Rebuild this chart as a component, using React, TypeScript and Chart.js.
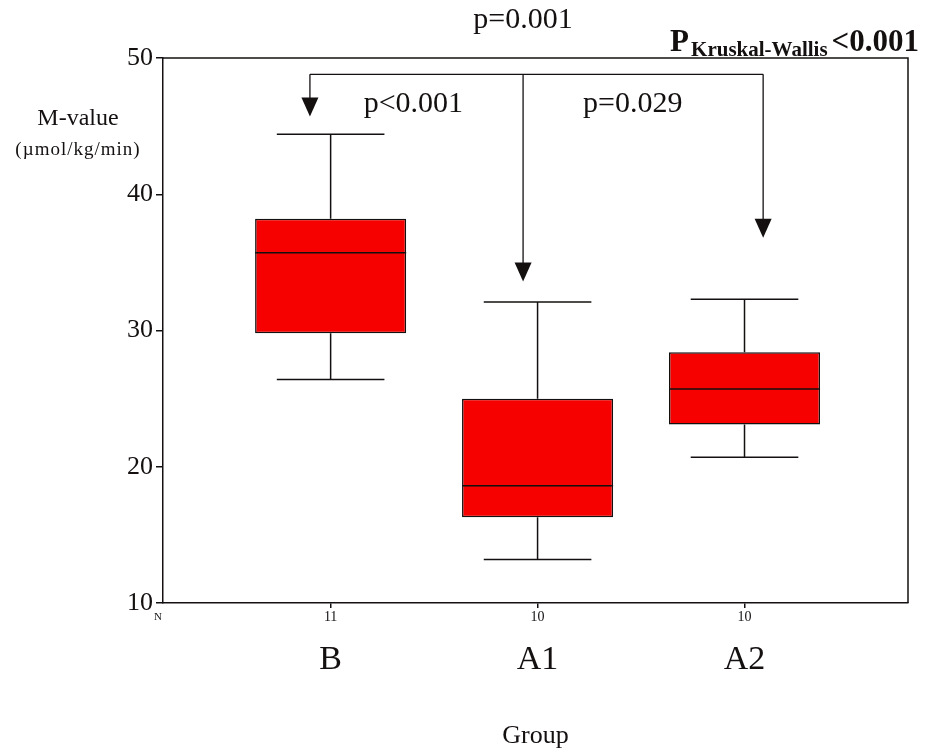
import React, { useEffect, useRef } from "react";
import { Chart, registerables } from "chart.js";

Chart.register(...registerables);

// Groups and their sample sizes
const groups = ["B", "A1", "A2"];
const nCounts = ["11", "10", "10"];

// Box-plot summary per group (M-value, µmol/kg/min)
const whiskerLow = [26.4, 13.2, 20.7];
const q1 = [29.8, 16.3, 23.1];
const median = [35.7, 18.6, 25.7];
const q3 = [38.2, 25.0, 28.4];
const whiskerHigh = [44.4, 32.1, 32.3];

const yTicks = [10, 20, 30, 40, 50];

// Pairwise comparison bracket: level, arrow positions, arrow tips
const bracketLevel = 48.8;
const arrowX = [0.9, 1.93, 3.09];
const arrowTip = [45.7, 33.6, 36.8];
const pairLabels = ["p<0.001", "p=0.029"];
const pairLabelX = [1.4, 2.46];
const pairLabelY = 46.6;
const overallLabel = "p=0.001";
const kwValue = "<0.001";

const ink = "#141010";
const boxFill = "#f70000";
const serif = "'Liberation Serif', 'Times New Roman', serif";
const capHalfWidth = 0.26;

const whiskerPlugin = {
  id: "whiskers",
  afterDatasetsDraw(chart: any) {
    const { ctx, scales } = chart;
    const x = scales.x;
    const y = scales.y;
    const meta = chart.getDatasetMeta(0);
    ctx.save();
    ctx.strokeStyle = ink;
    ctx.lineWidth = 1.5;
    meta.data.forEach((bar: any, i: number) => {
      const cx = bar.x;
      const half = bar.width / 2;
      const capHalf = x.getPixelForValue(i + 1 + capHalfWidth) - x.getPixelForValue(i + 1);
      const yMed = y.getPixelForValue(median[i]);
      const yQ1 = y.getPixelForValue(q1[i]);
      const yQ3 = y.getPixelForValue(q3[i]);
      const yLo = y.getPixelForValue(whiskerLow[i]);
      const yHi = y.getPixelForValue(whiskerHigh[i]);
      ctx.beginPath();
      ctx.moveTo(cx - half, yMed);
      ctx.lineTo(cx + half, yMed);
      ctx.moveTo(cx, yQ3);
      ctx.lineTo(cx, yHi);
      ctx.moveTo(cx, yQ1);
      ctx.lineTo(cx, yLo);
      ctx.moveTo(cx - capHalf, yHi);
      ctx.lineTo(cx + capHalf, yHi);
      ctx.moveTo(cx - capHalf, yLo);
      ctx.lineTo(cx + capHalf, yLo);
      ctx.stroke();
    });
    ctx.restore();
  },
};

const annotationPlugin = {
  id: "annotations",
  afterDraw(chart: any) {
    const { ctx, chartArea, scales } = chart;
    const x = scales.x;
    const y = scales.y;
    ctx.save();

    // top and right edges of the frame
    ctx.strokeStyle = ink;
    ctx.lineWidth = 1.5;
    ctx.beginPath();
    ctx.moveTo(chartArea.left, chartArea.top);
    ctx.lineTo(chartArea.right, chartArea.top);
    ctx.lineTo(chartArea.right, chartArea.bottom);
    ctx.stroke();

    // comparison bracket with arrows
    const yb = y.getPixelForValue(bracketLevel);
    const headH = 19;
    const headW = 17;
    ctx.lineWidth = 1.3;
    ctx.beginPath();
    ctx.moveTo(x.getPixelForValue(arrowX[0]), yb);
    ctx.lineTo(x.getPixelForValue(arrowX[arrowX.length - 1]), yb);
    ctx.stroke();
    ctx.fillStyle = ink;
    arrowX.forEach((ax, i) => {
      const px = x.getPixelForValue(ax);
      const tip = y.getPixelForValue(arrowTip[i]);
      ctx.beginPath();
      ctx.moveTo(px, yb);
      ctx.lineTo(px, tip - headH + 1);
      ctx.stroke();
      ctx.beginPath();
      ctx.moveTo(px - headW / 2, tip - headH);
      ctx.lineTo(px + headW / 2, tip - headH);
      ctx.lineTo(px, tip);
      ctx.closePath();
      ctx.fill();
    });

    // p-values
    ctx.fillStyle = ink;
    ctx.font = `30px ${serif}`;
    ctx.textAlign = "center";
    ctx.textBaseline = "middle";
    pairLabels.forEach((t, i) => {
      ctx.fillText(t, x.getPixelForValue(pairLabelX[i]), y.getPixelForValue(pairLabelY));
    });
    ctx.fillText(overallLabel, x.getPixelForValue(arrowX[1]), chartArea.top - 38);

    // Kruskal-Wallis result, right-aligned above the frame
    ctx.textBaseline = "alphabetic";
    ctx.textAlign = "left";
    const baseY = chartArea.top - 7;
    const endX = chartArea.right + 11;
    ctx.font = `bold 31px ${serif}`;
    const wVal = ctx.measureText(kwValue).width;
    const wP = ctx.measureText("P").width;
    ctx.font = `bold 21px ${serif}`;
    const sub = "Kruskal-Wallis";
    const wSub = ctx.measureText(sub).width;
    const valX = endX - wVal;
    const subX = valX - 4 - wSub;
    const pX = subX - 2 - wP;
    ctx.fillText(sub, subX, baseY + 5);
    ctx.font = `bold 31px ${serif}`;
    ctx.fillText("P", pX, baseY);
    ctx.fillText(kwValue, valX, baseY);

    // y-axis title
    ctx.textAlign = "center";
    ctx.textBaseline = "middle";
    ctx.font = `24px ${serif}`;
    ctx.fillText("M-value", 78, 119);
    ctx.font = `19px ${serif}`;
    (ctx as any).letterSpacing = "1px";
    ctx.fillText("(µmol/kg/min)", 78, 150);
    (ctx as any).letterSpacing = "0px";

    // sample-size row label
    ctx.font = `11px ${serif}`;
    ctx.fillText("N", chartArea.left - 5, chartArea.bottom + 14);

    ctx.restore();
  },
};

export default function App() {
  const ref = useRef<HTMLCanvasElement>(null);

  useEffect(() => {
    const canvas = ref.current;
    if (!canvas) return;
    const chart = new Chart(canvas, {
      type: "bar",
      data: {
        datasets: [
          {
            data: groups.map((_, i) => ({ x: i + 1, y: [q1[i], q3[i]] })) as any,
            backgroundColor: boxFill,
            borderColor: ink,
            borderWidth: 1.5,
            borderSkipped: false,
            categoryPercentage: 1,
            barPercentage: 0.73,
          },
        ],
      },
      options: {
        responsive: false,
        animation: false,
        devicePixelRatio: 1,
        layout: { padding: { top: 58, right: 23, left: 0, bottom: 0 } },
        plugins: { legend: { display: false }, tooltip: { enabled: false } },
        scales: {
          y: {
            type: "linear",
            min: 10,
            max: 50,
            afterBuildTicks: (s: any) => {
              s.ticks = yTicks.map((v) => ({ value: v }));
            },
            afterFit: (s: any) => {
              s.width = 163;
            },
            grid: { drawOnChartArea: false, drawTicks: true, tickLength: 7, color: ink, lineWidth: 1.5 },
            border: { display: true, color: ink, width: 1.5 },
            ticks: { color: ink, padding: 3, font: { family: serif, size: 26, lineHeight: 1 } },
          },
          x: {
            type: "linear",
            min: 0.19,
            max: 3.79,
            offset: false,
            weight: 0,
            afterBuildTicks: (s: any) => {
              s.ticks = groups.map((_, i) => ({ value: i + 1 }));
            },
            afterFit: (s: any) => {
              s.height = 25;
            },
            grid: { offset: false, drawOnChartArea: false, drawTicks: true, tickLength: 5, color: ink, lineWidth: 1.5 },
            border: { display: true, color: ink, width: 1.5 },
            ticks: {
              color: ink,
              padding: 2,
              maxRotation: 0,
              autoSkip: false,
              font: { family: serif, size: 14, lineHeight: 1 },
              callback: (v: any) => nCounts[Math.round(Number(v)) - 1] ?? "",
            },
          },
          x2: {
            type: "linear",
            position: "bottom",
            min: 0.19,
            max: 3.79,
            offset: false,
            weight: 1,
            afterBuildTicks: (s: any) => {
              s.ticks = groups.map((_, i) => ({ value: i + 1 }));
            },
            afterFit: (s: any) => {
              s.height = 123;
            },
            grid: { display: false, drawTicks: false, offset: false },
            border: { display: false },
            ticks: {
              color: ink,
              padding: 15,
              maxRotation: 0,
              autoSkip: false,
              font: { family: serif, size: 34, lineHeight: 1 },
              callback: (v: any) => groups[Math.round(Number(v)) - 1] ?? "",
            },
            title: {
              display: true,
              text: "Group",
              color: ink,
              padding: { top: 0, bottom: 2 },
              font: { family: serif, size: 26, lineHeight: 1 },
            },
          },
        },
      } as any,
      plugins: [whiskerPlugin, annotationPlugin],
    });
    return () => chart.destroy();
  }, []);

  return (
    <div style={{ position: "fixed", left: 0, top: 0, width: 931, height: 751, background: "#fff" }}>
      <canvas ref={ref} width={931} height={751} style={{ display: "block" }} />
    </div>
  );
}
